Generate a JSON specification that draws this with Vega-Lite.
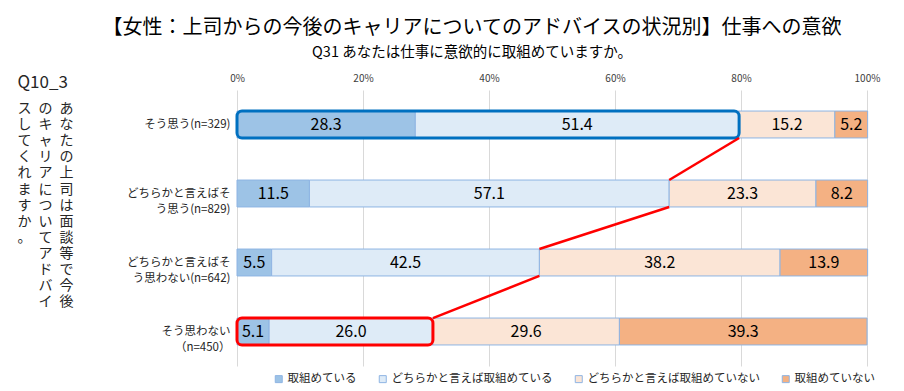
{
  "$schema": "https://vega.github.io/schema/vega-lite/v6.json",
  "width": 630,
  "height": 276,
  "autosize": {"type": "none"},
  "padding": {"left": 237, "top": 90, "right": 37, "bottom": 25},
  "background": "white",
  "config": {"view": {"stroke": null}, "font": "Noto Sans CJK JP"},
  "title": {
    "text": "【女性：上司からの今後のキャリアについてのアドバイスの状況別】仕事への意欲",
    "subtitle": "Q31  あなたは仕事に意欲的に取組めていますか。",
    "font": "Noto Sans CJK JP",
    "subtitleFont": "Noto Sans CJK JP",
    "fontSize": 20,
    "fontWeight": "normal",
    "subtitleFontSize": 14.5,
    "color": "#000000",
    "subtitleColor": "#000000",
    "anchor": "middle",
    "dx": -80,
    "offset": 14,
    "subtitlePadding": 8
  },
  "datasets": {
    "bars": [
      {"cat": "そう思う(n=329)", "s": "取組めている", "k": 1, "v": 28.3},
      {"cat": "そう思う(n=329)", "s": "どちらかと言えば取組めている", "k": 2, "v": 51.4},
      {"cat": "そう思う(n=329)", "s": "どちらかと言えば取組めていない", "k": 3, "v": 15.2},
      {"cat": "そう思う(n=329)", "s": "取組めていない", "k": 4, "v": 5.2},
      {"cat": "どちらかと言えばそ|う思う(n=829)", "s": "取組めている", "k": 1, "v": 11.5},
      {"cat": "どちらかと言えばそ|う思う(n=829)", "s": "どちらかと言えば取組めている", "k": 2, "v": 57.1},
      {"cat": "どちらかと言えばそ|う思う(n=829)", "s": "どちらかと言えば取組めていない", "k": 3, "v": 23.3},
      {"cat": "どちらかと言えばそ|う思う(n=829)", "s": "取組めていない", "k": 4, "v": 8.2},
      {"cat": "どちらかと言えばそ|う思わない(n=642)", "s": "取組めている", "k": 1, "v": 5.5},
      {"cat": "どちらかと言えばそ|う思わない(n=642)", "s": "どちらかと言えば取組めている", "k": 2, "v": 42.5},
      {"cat": "どちらかと言えばそ|う思わない(n=642)", "s": "どちらかと言えば取組めていない", "k": 3, "v": 38.2},
      {"cat": "どちらかと言えばそ|う思わない(n=642)", "s": "取組めていない", "k": 4, "v": 13.9},
      {"cat": "そう思わない|（n=450）", "s": "取組めている", "k": 1, "v": 5.1},
      {"cat": "そう思わない|（n=450）", "s": "どちらかと言えば取組めている", "k": 2, "v": 26.0},
      {"cat": "そう思わない|（n=450）", "s": "どちらかと言えば取組めていない", "k": 3, "v": 29.6},
      {"cat": "そう思わない|（n=450）", "s": "取組めていない", "k": 4, "v": 39.3}
    ],
    "hl": [
      {"cat": "そう思う(n=329)", "x0": 0, "x1": 79.7, "h": "blue"},
      {"cat": "そう思わない|（n=450）", "x0": 0, "x1": 31.1, "h": "red"}
    ],
    "conn": [
      {"from": "そう思う(n=329)", "to": "どちらかと言えばそ|う思う(n=829)", "xa": 79.7, "xb": 68.6},
      {"from": "どちらかと言えばそ|う思う(n=829)", "to": "どちらかと言えばそ|う思わない(n=642)", "xa": 68.6, "xb": 48.0},
      {"from": "どちらかと言えばそ|う思わない(n=642)", "to": "そう思わない|（n=450）", "xa": 48.0, "xb": 31.1}
    ]
  },
  "layer": [
    {
      "data": {"name": "bars"},
      "mark": {"type": "bar", "stroke": "#8EB4E3", "strokeWidth": 1},
      "encoding": {
        "x": {
          "field": "v",
          "type": "quantitative",
          "stack": "zero",
          "scale": {"domain": [0, 100], "nice": false},
          "axis": {
            "orient": "top",
            "title": "Q10_3",
            "titleAngle": 0,
            "titleAlign": "left",
            "titleBaseline": "middle",
            "titleX": -220,
            "titleY": -8,
            "titleFontSize": 17,
            "titleFontWeight": "normal",
            "titleColor": "#262626",
            "titleFont": "Noto Sans CJK JP",
            "values": [0, 20, 40, 60, 80, 100],
            "labelExpr": "datum.value + '%'",
            "labelFontSize": 10,
            "labelColor": "#404040",
            "labelPadding": 7,
            "labelFlush": false,
            "ticks": false,
            "domain": false,
            "grid": true,
            "gridColor": "#D9D9D9",
            "gridWidth": 1
          }
        },
        "y": {
          "field": "cat",
          "type": "nominal",
          "scale": {
            "domain": ["そう思う(n=329)", "どちらかと言えばそ|う思う(n=829)", "どちらかと言えばそ|う思わない(n=642)", "そう思わない|（n=450）"],
            "paddingInner": 0.61,
            "paddingOuter": 0.305
          },
          "axis": {
            "title": [
              "ス\u2002の\u2002あ",
              "し\u2002キ\u2002な",
              "て\u2002ャ\u2002た",
              "く\u2002リ\u2002の",
              "れ\u2002ア\u2002上",
              "ま\u2002に\u2002司",
              "す\u2002つ\u2002は",
              "か\u2002い\u2002面",
              "。\u2002て\u2002談",
              "ア\u2002等",
              "ド\u2002で",
              "バ\u2002今",
              "イ\u2002後"
            ],
            "titleAngle": 0,
            "titleAlign": "right",
            "titleBaseline": "top",
            "titleX": -164,
            "titleY": 11.5,
            "titleFontSize": 14,
            "titleFontWeight": "normal",
            "titleLineHeight": 16.1,
            "titleColor": "#262626",
            "titleFont": "Noto Sans CJK JP",
            "labelExpr": "split(datum.value, '|')",
            "labelFontSize": 11.5,
            "labelLineHeight": 16,
            "labelColor": "#262626",
            "labelPadding": 7,
            "labelLimit": 220,
            "ticks": false,
            "domain": false
          }
        },
        "color": {
          "field": "s",
          "type": "nominal",
          "scale": {
            "domain": ["取組めている", "どちらかと言えば取組めている", "どちらかと言えば取組めていない", "取組めていない"],
            "range": ["#9DC3E6", "#DEEBF7", "#FBE5D6", "#F4B183"]
          },
          "legend": {
            "orient": "none",
            "legendX": 36,
            "legendY": 283,
            "direction": "horizontal",
            "columns": 4,
            "title": null,
            "symbolType": "square",
            "symbolSize": 49,
            "symbolStrokeColor": "#8EB4E3",
            "symbolStrokeWidth": 1,
            "labelFontSize": 11.5,
            "labelColor": "#262626",
            "labelOffset": 3,
            "labelLimit": 300,
            "columnPadding": 20
          }
        },
        "order": {"field": "k", "type": "quantitative"}
      }
    },
    {
      "data": {"name": "bars"},
      "mark": {"type": "text", "fontSize": 16, "color": "#000000", "font": "Noto Sans CJK JP"},
      "encoding": {
        "x": {"field": "v", "type": "quantitative", "stack": "zero", "bandPosition": 0.5},
        "y": {"field": "cat", "type": "nominal"},
        "detail": {"field": "s"},
        "order": {"field": "k", "type": "quantitative"},
        "text": {"field": "v", "type": "quantitative", "format": ".1f"}
      }
    },
    {
      "data": {"name": "hl"},
      "mark": {"type": "bar", "filled": false, "strokeWidth": 3, "cornerRadius": 5},
      "encoding": {
        "x": {"field": "x0", "type": "quantitative"},
        "x2": {"field": "x1"},
        "y": {"field": "cat", "type": "nominal"},
        "stroke": {
          "field": "h",
          "type": "nominal",
          "scale": {"domain": ["blue", "red"], "range": ["#0070C0", "#FF0000"]},
          "legend": null
        }
      }
    },
    {
      "data": {"name": "conn"},
      "mark": {"type": "rule", "color": "#FF0000", "strokeWidth": 2.5},
      "encoding": {
        "x": {"field": "xa", "type": "quantitative"},
        "x2": {"field": "xb"},
        "y": {"field": "from", "type": "nominal", "bandPosition": 1},
        "y2": {"field": "to", "bandPosition": 0}
      }
    }
  ]
}
